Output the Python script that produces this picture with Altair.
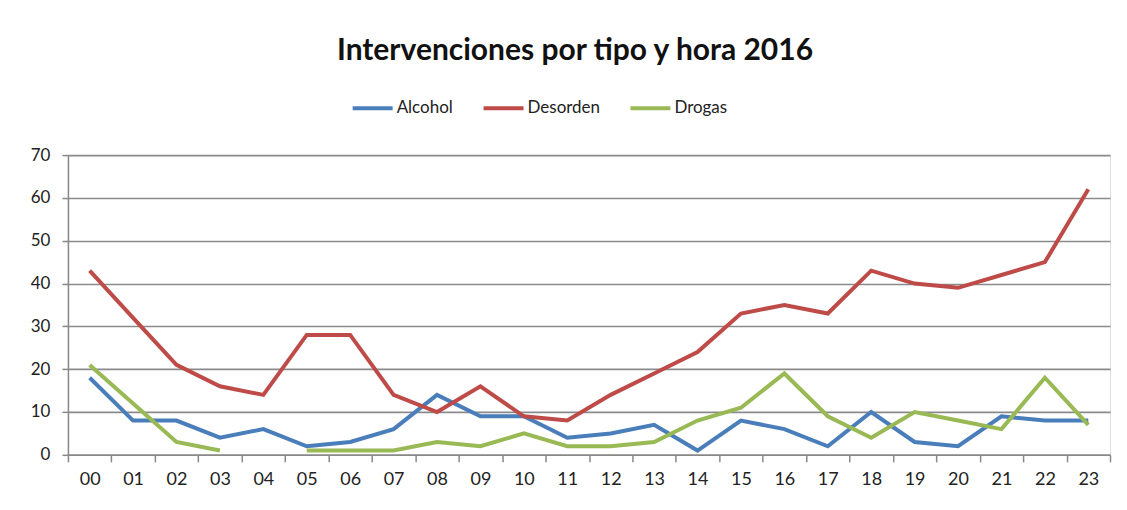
import altair as alt
import pandas as pd

hours = ["00", "01", "02", "03", "04", "05", "06", "07", "08", "09", "10", "11",
         "12", "13", "14", "15", "16", "17", "18", "19", "20", "21", "22", "23"]
alcohol = [18, 8, 8, 4, 6, 2, 3, 6, 14, 9, 9, 4, 5, 7, 1, 8, 6, 2, 10, 3, 2, 9, 8, 8]
desorden = [43, 32, 21, 16, 14, 28, 28, 14, 10, 16, 9, 8, 14, 19, 24, 33, 35, 33, 43, 40, 39, 42, 45, 62]
drogas = [21, 12, 3, 1, None, 1, 1, 1, 3, 2, 5, 2, 2, 3, 8, 11, 19, 9, 4, 10, 8, 6, 18, 7]
series = ["Alcohol", "Desorden", "Drogas"]
colors = ["#4A7EBB", "#BE4B48", "#98B954"]

rows = []
for name, vals in zip(series, [alcohol, desorden, drogas]):
    for h, v in zip(hours, vals):
        rows.append({"hora": h, "serie": name, "valor": v})
df = pd.DataFrame(rows)

FONT = "Lato"

chart = alt.Chart(df).mark_line(
    strokeWidth=4, invalid="break-paths-filter-domains"
).encode(
    x=alt.X("hora:N", sort=hours, title=None,
            scale=alt.Scale(type="band", paddingInner=0, paddingOuter=0),
            axis=alt.Axis(labelAngle=0, labelFontSize=18, labelColor="#222",
                          labelFont=FONT, tickBand="extent", tickSize=7,
                          tickColor="#888", domainColor="#888", domainWidth=1.5,
                          tickWidth=1.5, labelPadding=9, grid=False)),
    y=alt.Y("valor:Q", title=None,
            scale=alt.Scale(domain=[0, 70], nice=False),
            axis=alt.Axis(values=[0, 10, 20, 30, 40, 50, 60, 70], labelFontSize=17,
                          labelFont=FONT, labelColor="#222", tickSize=6,
                          tickColor="#888", domainColor="#888", domainWidth=1.5,
                          tickWidth=1.5, labelPadding=12, gridColor="#8a8a8a",
                          gridWidth=1.6)),
    color=alt.Color("serie:N", sort=series,
                    scale=alt.Scale(domain=series, range=colors),
                    legend=alt.Legend(title=None, orient="none", direction="horizontal",
                                      legendX=283, legendY=-69, symbolType="stroke",
                                      symbolStrokeWidth=4, symbolSize=1600,
                                      labelFontSize=17, labelFont=FONT,
                                      labelColor="#222", columnPadding=22,
                                      symbolOffset=0, labelOffset=2)),
).properties(
    width=1043, height=300,
    title=alt.Title("Intervenciones por tipo y hora 2016", fontSize=30,
                    font=FONT, fontWeight="bold", color="#111",
                    anchor="middle", dx=-14, offset=20),
    padding={"left": 22, "top": 28, "right": 8, "bottom": 5},
).configure_view(
    stroke=None
).configure(background="white")

chart.save("out.html", embed_options={"renderer": "svg", "actions": False})
